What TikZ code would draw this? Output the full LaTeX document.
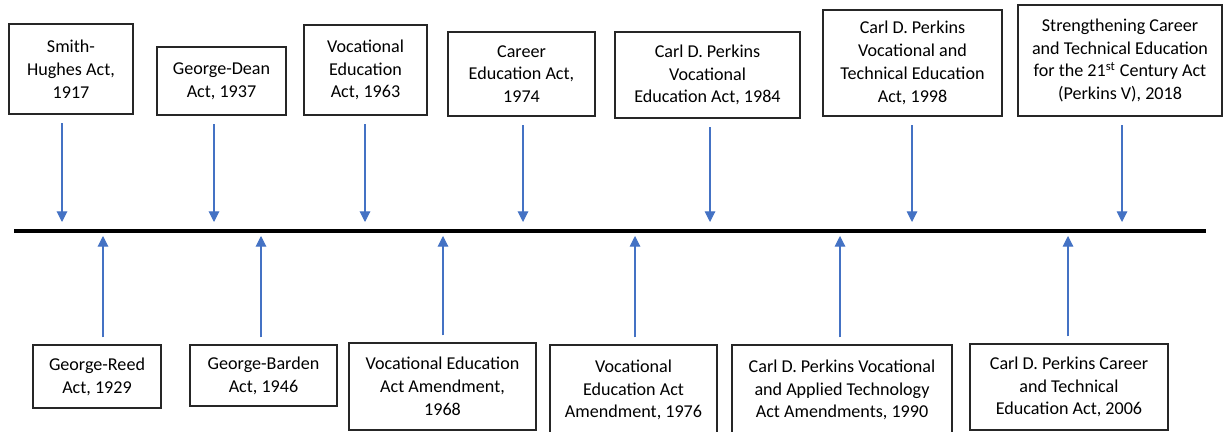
\documentclass[tikz,border=0pt]{standalone}
\usepackage{fontspec}
\setmainfont{Carlito}
\usetikzlibrary{arrows.meta}

\definecolor{arrowblue}{HTML}{4472C4}

\begin{document}
\begin{tikzpicture}[x=0.02cm, y=-0.02cm,
    act/.style={draw=black!85, line width=0.7pt, align=center, inner sep=2pt,
        font=\fontsize{10.3}{13}\selectfont},
    pointer/.style={draw=arrowblue, line width=0.6pt,
        -{Triangle[width=6pt,length=6pt]}}]
    \useasboundingbox (0,0) rectangle (1223,432);

    % Acts above the line
    \node[act, minimum width=2.48cm, minimum height=1.80cm] (sh)   at (71,69)    {Smith-\\Hughes Act,\\1917};
    \node[act, minimum width=2.58cm, minimum height=1.36cm] (gd)   at (221.5,81) {George-Dean\\Act, 1937};
    \node[act, minimum width=2.46cm, minimum height=1.80cm] (ve63) at (365.5,70) {Vocational\\Education\\Act, 1963};
    \node[act, minimum width=2.94cm, minimum height=1.68cm] (ce74) at (521.5,74) {Career\\Education Act,\\1974};
    \node[act, minimum width=3.70cm, minimum height=1.72cm] (cp84) at (707.5,75) {Carl D. Perkins\\Vocational\\Education Act, 1984};
    \node[act, minimum width=3.58cm, minimum height=2.12cm] (cp98) at (912.5,63) {Carl D. Perkins\\Vocational and\\Technical Education\\Act, 1998};
    \node[act, minimum width=4.08cm, minimum height=2.22cm] (sc18) at (1120,60.5) {Strengthening Career\\and Technical Education\\for the 21\textsuperscript{st} Century Act\\(Perkins V), 2018};

    % Acts below the line
    \node[act, minimum width=2.56cm, minimum height=1.26cm] (gr29)  at (97,376.5)  {George-Reed\\Act, 1929};
    \node[act, minimum width=2.94cm, minimum height=1.22cm] (gb46)  at (263.5,375.5) {George-Barden\\Act, 1946};
    \node[act, minimum width=3.74cm, minimum height=1.74cm] (vea68) at (442.5,386.5) {Vocational Education\\Act Amendment,\\1968};
    \node[act, minimum width=3.34cm, minimum height=1.80cm] (vea76) at (633.5,390) {Vocational\\Education Act\\Amendment, 1976};
    \node[act, minimum width=4.40cm, minimum height=1.80cm] (cp90)  at (842,390)   {Carl D. Perkins Vocational\\and Applied Technology\\Act Amendments, 1990};
    \node[act, minimum width=3.96cm, minimum height=1.72cm] (cp06)  at (1069,387)  {Carl D. Perkins Career\\and Technical\\Education Act, 2006};

    % Timeline
    \coordinate (tl-start) at (14,231);
    \coordinate (tl-end)   at (1206,231);
    \draw[line width=2.4pt] (tl-start) -- (tl-end);

    % Marks on the line
    \foreach \n/\x in {sh/62, gd/214, ve63/365, ce74/523, cp84/710, cp98/912, sc18/1122}
        \coordinate (\n-mark) at (\x,222);
    \foreach \n/\x in {gr29/103, gb46/261, vea68/443, vea76/635, cp90/840, cp06/1068}
        \coordinate (\n-mark) at (\x,236);

    % Arrows
    \foreach \n in {sh, gd, ve63, ce74, cp84, cp98, sc18}
        \draw[pointer, shorten <=5pt] (\n.south -| \n-mark) -- (\n-mark);
    \foreach \n in {gr29, gb46, vea68, vea76, cp90, cp06}
        \draw[pointer, shorten <=4pt] (\n.north -| \n-mark) -- (\n-mark);

\end{tikzpicture}
\end{document}
